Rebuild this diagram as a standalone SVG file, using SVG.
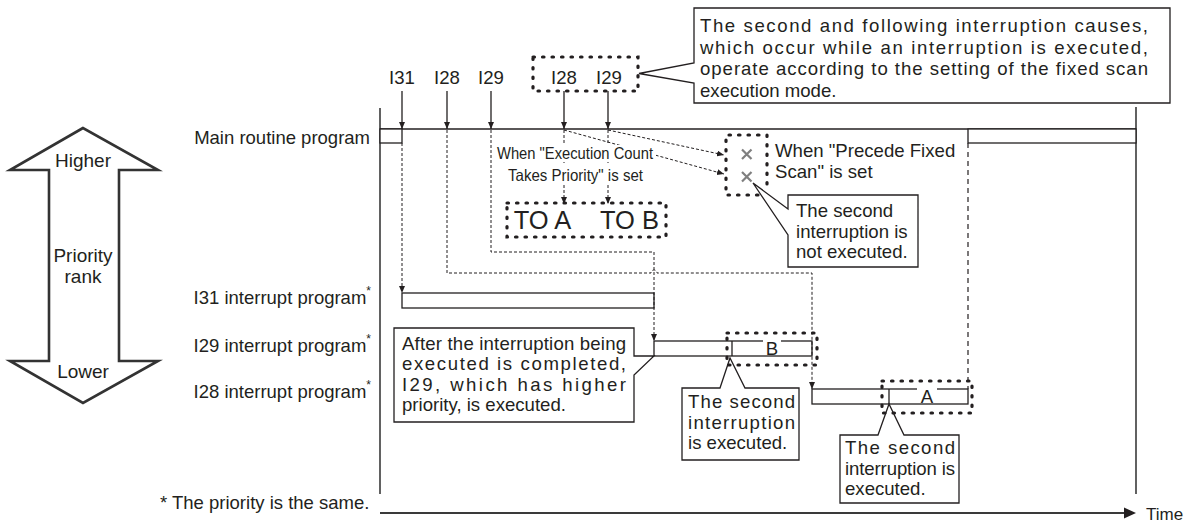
<svg xmlns="http://www.w3.org/2000/svg" width="1188" height="524" viewBox="0 0 1188 524">
<style>
.t{font-family:"Liberation Sans",Arial,Helvetica,sans-serif;fill:#231f20;font-size:18.6px}
.s15{font-size:16.5px}
.s19{font-size:19px}
.s185{font-size:18.5px}
.big{font-size:25.5px}
.s17{font-size:17px}
.ast{font-size:12px}
.ln{stroke:#231f20;stroke-width:1.3;fill:none}
.ax{stroke:#3a3a3a;stroke-width:1.6;fill:none}
.bar{fill:#fff;stroke:#231f20;stroke-width:1.3}
.dash{stroke:#231f20;stroke-width:1;stroke-dasharray:3 2;fill:none}
.dash2{stroke:#231f20;stroke-width:1.2;stroke-dasharray:5 4;fill:none}
.dot{fill:none;stroke:#231f20;stroke-width:3.2;stroke-dasharray:1.5 8;stroke-linecap:round}
.call{fill:#fff;stroke:#231f20;stroke-width:1.3;stroke-linejoin:miter}
.x{stroke:#7f7f7f;stroke-width:2.2;fill:none}
</style>
<defs>
<marker id="ah" markerUnits="userSpaceOnUse" markerWidth="8" markerHeight="7" refX="7" refY="3" orient="auto">
<path d="M0,0 L7,3 L0,6 Z" fill="#231f20"/>
</marker>
</defs>
<rect width="1188" height="524" fill="#fff"/>

<g id="priority-arrow">
<polygon points="83,128 10,170 49,170 49,361 10,361 83,403 158,361 119,361 119,170 158,170" fill="#fff" stroke="#333" stroke-width="2.6" stroke-linejoin="miter"/>
<text class="t s19" x="83" y="167" text-anchor="middle">Higher</text>
<text class="t s19" x="83" y="262" text-anchor="middle">Priority</text>
<text class="t s19" x="83" y="283" text-anchor="middle">rank</text>
<text class="t s19" x="83" y="378" text-anchor="middle">Lower</text>
</g>

<g id="row-labels">
<text class="t s185" x="370" y="144" text-anchor="end">Main routine program</text>
<text class="t s185" x="371" y="304" text-anchor="end">I31 interrupt program<tspan class="ast" dy="-9">*</tspan></text>
<text class="t s185" x="371" y="352" text-anchor="end">I29 interrupt program<tspan class="ast" dy="-9">*</tspan></text>
<text class="t s185" x="371" y="398" text-anchor="end">I28 interrupt program<tspan class="ast" dy="-9">*</tspan></text>
<text class="t s185" x="160" y="509">* The priority is the same.</text>
</g>

<g id="time-axis">
<line class="ax" x1="380" y1="108" x2="380" y2="494"/>
<line class="ax" x1="1136" y1="107" x2="1136" y2="494"/>
<line x1="380" y1="513" x2="1126" y2="513" stroke="#3a3a3a" stroke-width="2"/>
<polygon points="1124,507.5 1136,513 1124,518.5" fill="#231f20"/>
<text class="t s17" x="1146" y="520">Time</text>
</g>

<g id="main-routine">
<line class="ln" x1="380" y1="129" x2="1136" y2="129"/>
<rect class="bar" x="380" y="129" width="22" height="14"/>
<rect class="bar" x="968" y="129" width="168" height="14"/>
</g>

<g id="i31-bar">
<rect class="bar" x="402" y="293" width="252" height="15"/>
</g>

<g id="i29-bar">
<rect class="bar" x="654" y="341" width="158" height="15"/>
<line class="ln" x1="732" y1="341" x2="732" y2="356"/>
<line x1="763" y1="341" x2="781" y2="341" stroke="#fff" stroke-width="2"/>
<text class="t" x="772" y="355" text-anchor="middle">B</text>
</g>

<g id="i28-bar">
<rect class="bar" x="812" y="389" width="156" height="15"/>
<line class="ln" x1="889" y1="389" x2="889" y2="404"/>
<line x1="917" y1="389" x2="937" y2="389" stroke="#fff" stroke-width="2"/>
<text class="t" x="927" y="403" text-anchor="middle">A</text>
</g>

<g id="connectors">
<path class="ln" d="M402,91 V129" marker-end="url(#ah)"/>
<path class="ln" d="M447,91 V129" marker-end="url(#ah)"/>
<path class="ln" d="M491,91 V129" marker-end="url(#ah)"/>
<path class="ln" d="M564,91 V129" marker-end="url(#ah)"/>
<path class="ln" d="M608,91 V129" marker-end="url(#ah)"/>
<path class="dash" d="M402,143 V293" marker-end="url(#ah)"/>
<path class="dash" d="M447,130 V273 H651 A3,3 0 0 1 657,273 H812 V389" marker-end="url(#ah)"/>
<path class="dash" d="M491,130 V252 H654 V341" marker-end="url(#ah)"/>
<path class="dash" d="M564,130 V204" marker-end="url(#ah)"/>
<path class="dash" d="M608,130 V204" marker-end="url(#ah)"/>
<path class="dash" d="M608,130 L724,155" marker-end="url(#ah)"/>
<path class="dash" d="M564,130 L724,174" marker-end="url(#ah)"/>
<path class="dash2" d="M968,143 V389"/>
</g>

<g id="exec-count-note">
<rect x="494" y="145" width="162" height="17" fill="#fff"/>
<rect x="504" y="165" width="142" height="20" fill="#fff"/>
<text class="t s15" x="497" y="159" textLength="156" lengthAdjust="spacingAndGlyphs">When "Execution Count</text>
<text class="t s15" x="508" y="181" textLength="135" lengthAdjust="spacingAndGlyphs">Takes Priority" is set</text>
</g>

<g id="to-ab">
<rect class="dot" x="507" y="203" width="159" height="34"/>
<text class="t big" x="542.5" y="229" text-anchor="middle">TO A</text>
<text class="t big" x="629.5" y="229" text-anchor="middle">TO B</text>
</g>

<g id="top-labels">
<text class="t" x="402" y="84" text-anchor="middle">I31</text>
<text class="t" x="447" y="84" text-anchor="middle">I28</text>
<text class="t" x="491" y="84" text-anchor="middle">I29</text>
<text class="t" x="564" y="84" text-anchor="middle">I28</text>
<text class="t" x="609" y="84" text-anchor="middle">I29</text>
<rect class="dot" x="533" y="57" width="105" height="34"/>
</g>

<g id="note-fixed-scan">
<path class="call" d="M694,63 V8 H1170 V103 H694 V83 L639,73.5 Z"/>
<text class="t" x="700" y="32" textLength="448" lengthAdjust="spacing">The second and following interruption causes,</text>
<text class="t" x="700" y="54" textLength="448" lengthAdjust="spacing">which occur while an interruption is executed,</text>
<text class="t" x="700" y="75" textLength="448" lengthAdjust="spacing">operate according to the setting of the fixed scan</text>
<text class="t" x="700" y="96.5">execution mode.</text>
</g>

<g id="precede-fixed-scan">
<path class="dot" d="M758,195 H726 V135 H767 V184"/>
<path class="x" d="M742,149.5 L751.5,159 M751.5,149.5 L742,159"/>
<path class="x" d="M742,172 L751.5,181.5 M751.5,172 L742,181.5"/>
<text class="t" x="775" y="157">When "Precede Fixed</text>
<text class="t" x="775" y="178">Scan" is set</text>
</g>

<g id="note-not-executed">
<path class="call" d="M788,235 V267 H918 V195 H788 V209 L753,183 Z"/>
<text class="t" x="796" y="217">The second</text>
<text class="t" x="796" y="238">interruption is</text>
<text class="t" x="796" y="258">not executed.</text>
</g>

<g id="note-after">
<path class="call" d="M634,356 L654,356 L634,375 V422 H394 V328 H634 Z"/>
<text class="t" x="402" y="349.5" textLength="224" lengthAdjust="spacing">After the interruption being</text>
<text class="t" x="402" y="370" textLength="224" lengthAdjust="spacing">executed is completed,</text>
<text class="t" x="402" y="390.5" textLength="224" lengthAdjust="spacing">I29, which has higher</text>
<text class="t" x="402" y="411">priority, is executed.</text>
</g>

<g id="note-b">
<path class="call" d="M720,388 L730,358 L745,388 H799 V460 H682 V388 Z"/>
<rect class="dot" x="727" y="333" width="90" height="32"/>
<text class="t" x="688" y="408" textLength="107" lengthAdjust="spacing">The second</text>
<text class="t" x="688" y="428.5" textLength="107" lengthAdjust="spacing">interruption</text>
<text class="t" x="688" y="449">is executed.</text>
</g>

<g id="note-a">
<path class="call" d="M878,435 L889,404 L904,435 H959 V503 H840 V435 Z"/>
<rect class="dot" x="882" y="381" width="90" height="32"/>
<text class="t" x="845" y="454" textLength="110" lengthAdjust="spacing">The second</text>
<text class="t" x="845" y="475" textLength="110" lengthAdjust="spacing">interruption is</text>
<text class="t" x="845" y="495">executed.</text>
</g>
</svg>
